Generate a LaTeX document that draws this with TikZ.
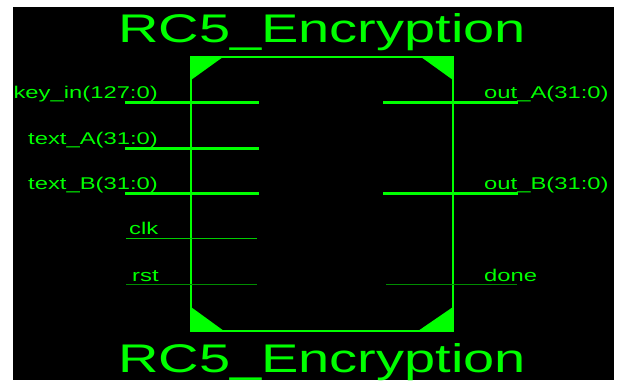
\documentclass[tikz,border=0pt]{standalone}
\usepackage{fontspec}
\newfontfamily\pinfont[FakeStretch=1.4]{Liberation Sans}
\definecolor{sym}{RGB}{0,255,0}
\definecolor{symdim}{RGB}{0,140,0}
\begin{document}
\begin{tikzpicture}[x=1pt,y=-1pt,
  bus/.style={sym,line width=3pt},
  wire/.style={sym!80!black,line width=1pt},
  lbl/.style={sym,inner sep=0pt,font=\pinfont\fontsize{17}{17}\selectfont},
  ttl/.style={sym,inner sep=0pt,anchor=base west,font=\pinfont\fontsize{40}{40}\selectfont}]
\useasboundingbox (0,0) rectangle (617,380);
\fill[white] (0,0) rectangle (617,380);
\fill[black] (13,7) rectangle (614,380);
% titles
\node[ttl] (ttop) at (118,42) {RC5\_Encryption};
\node[ttl] (tbot) at (118,372) {RC5\_Encryption};
% symbol body
\coordinate (nw) at (191,57);
\coordinate (se) at (453,331);
\draw[sym,line width=1.3pt] (nw) rectangle (se);
\fill[sym] (nw) -- ++(32,0) -- ++(-32,23) -- cycle;
\fill[sym] (nw -| se) -- ++(-32,0) -- ++(32,23) -- cycle;
\fill[sym] (nw |- se) -- ++(33,0) -- ++(-33,-24) -- cycle;
\fill[sym] (se) -- ++(-35,0) -- ++(35,-24) -- cycle;
% inputs
\foreach \y/\txt in {102/{key\_in(127:0)},148/{text\_A(31:0)},193/{text\_B(31:0)}}{
  \coordinate (in\y) at (125,\y);
  \draw[bus] (in\y) -- ++(134,0);
  \node[lbl,anchor=base east] (lin\y) at (158,\y-4) {\txt};
}
\coordinate (clk) at (126,238);
\draw[wire] (clk) -- ++(131,0);
\node[lbl,anchor=base west] (lclk) at (129,234) {clk};
\coordinate (rst) at (126,284);
\draw[wire,symdim] (rst) -- ++(131,0);
\node[lbl,anchor=base west] (lrst) at (132,281) {rst};
% outputs
\foreach \y/\txt in {102/{out\_A(31:0)},193/{out\_B(31:0)}}{
  \coordinate (out\y) at (383,\y);
  \draw[bus] (out\y) -- ++(135,0);
  \node[lbl,anchor=base west] (lout\y) at (484,\y-4) {\txt};
}
\coordinate (done) at (386,284);
\draw[wire,symdim] (done) -- ++(131,0);
\node[lbl,anchor=base west] (ldone) at (484,281) {done};
\end{tikzpicture}
\end{document}
